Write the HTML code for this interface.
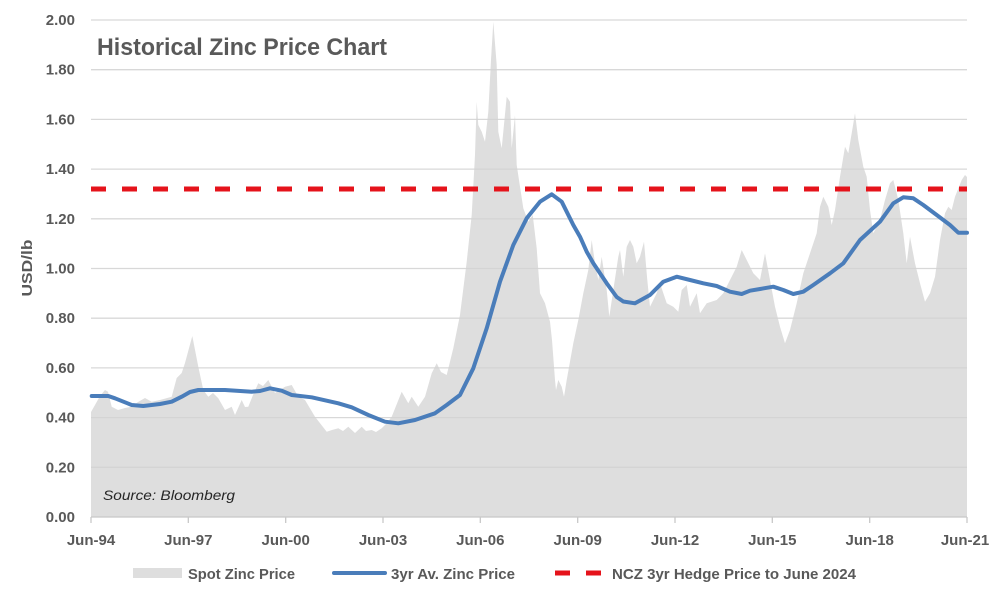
<!DOCTYPE html>
<html><head><meta charset="utf-8"><style>
html,body{margin:0;padding:0;background:#fff;}
svg{display:block;}
text{font-family:"Liberation Sans",Arial,sans-serif;fill:#595959;}
</style></head><body>
<svg width="1000" height="589" viewBox="0 0 1000 589" xmlns="http://www.w3.org/2000/svg">
<rect width="1000" height="589" fill="#fff"/>
<!-- spot area -->
<polygon fill="#dedede" points="91,412 95,405 100,396 105,390 108,391.7 111.7,406.7 118,410 125,408 131.7,406.7 138,402 145,398 151.7,401.7 160,400 171.7,396.7 176.7,378 181.7,373 185,363 192.3,336 198.3,366.7 203.3,390 208.3,396.7 213,393 218.3,398.3 225,410 231.7,406.7 235,415 241.7,400 245,407 248.3,406.7 253,395 258.3,383.3 263,386 268.3,380 275,393 280,390 285,386.7 291.7,385 298.3,396.7 305,400 315,416.7 326.7,431.7 332,430 338.3,428.3 343,431 348.3,426.7 355,433 361.7,426.7 366,431 371.7,430 376,432 381.7,428.3 386,424 391.7,416.7 401.7,391.7 408.3,403.3 411.7,396.7 418.3,406.7 425,396.7 431.7,373.3 436.7,363.3 441,372 446.7,375 453.3,348.3 460,315 466.7,261.7 471.7,215 475,155 476.7,101.7 478.3,125 481.7,131.7 485,141.7 488.3,111.7 491,60 493.3,21.7 496.7,65 498.3,131.7 501.7,148.3 506.7,96.7 510,101.7 511.7,148.3 515,115 516.7,165 523.3,208.3 528.3,221.7 532.7,215 536.7,248.3 540,293.3 545,303.3 550,321.7 552,340 555,380 556,390 558.3,380 561.7,386.7 564,396.7 566.7,380 573.3,343.3 578.3,320 583.3,293.3 588.3,270 591.7,240 595,263.3 598.3,280 601.7,256.7 606.7,290 609.3,316.7 613.3,290 618.3,256.7 620,250 623.3,276.7 626.7,246.7 630,240 633.3,246.7 636.7,263.3 640,256.7 644,241.7 647.3,280 650,306.7 656.7,293.3 660,283.3 666.7,303.3 673.3,306.7 678.3,311.7 681.7,290 686.7,285 690,306.7 696.7,293.3 700,313.3 706.7,303.3 716.7,300 723.3,293.3 730,280 736.7,266.7 741.7,250 746.7,260 753.3,273.3 760,280 765,253.3 770,280 775,306.7 780,326.7 785,343.3 790,330 796.7,303.3 803.3,273.3 810,253.3 816.7,233.3 820,206.7 823.3,196.7 828.3,206.7 831.7,225 835,210 840,176.7 845,146.7 848.3,153.3 851.7,133.3 855,113.3 858.3,140 863.3,166.7 866.7,176.7 870,210 873.3,233.3 876.7,226.7 880,220 885,200 890,183.3 893.3,180 898.3,200 903.3,233.3 906.7,263.3 910,236.7 915,263.3 920,283.3 925,301.7 930,293.3 935,276.7 940,240 945,213.3 948.3,206.7 951.7,210 955,196.7 961.7,180 965,175 967,177 967,517 91,517"/>
<!-- gridlines -->
<g stroke="#d4d4d4" stroke-width="1.3" opacity="0.9">
<line x1="91" y1="467.3" x2="967" y2="467.3"/>
<line x1="91" y1="417.6" x2="967" y2="417.6"/>
<line x1="91" y1="367.9" x2="967" y2="367.9"/>
<line x1="91" y1="318.2" x2="967" y2="318.2"/>
<line x1="91" y1="268.5" x2="967" y2="268.5"/>
<line x1="91" y1="218.8" x2="967" y2="218.8"/>
<line x1="91" y1="169.1" x2="967" y2="169.1"/>
<line x1="91" y1="119.4" x2="967" y2="119.4"/>
<line x1="91" y1="69.7" x2="967" y2="69.7"/>
<line x1="91" y1="20" x2="967" y2="20"/>
</g>
<!-- x axis -->
<g stroke="#c8c8c8" stroke-width="1.3">
<line x1="91" y1="517" x2="967" y2="517"/>
<line x1="91" y1="517" x2="91" y2="523"/>
<line x1="188.3" y1="517" x2="188.3" y2="523"/>
<line x1="285.7" y1="517" x2="285.7" y2="523"/>
<line x1="383" y1="517" x2="383" y2="523"/>
<line x1="480.3" y1="517" x2="480.3" y2="523"/>
<line x1="577.7" y1="517" x2="577.7" y2="523"/>
<line x1="675" y1="517" x2="675" y2="523"/>
<line x1="772.3" y1="517" x2="772.3" y2="523"/>
<line x1="869.7" y1="517" x2="869.7" y2="523"/>
<line x1="967" y1="517" x2="967" y2="523"/>
</g>
<!-- hedge line -->
<line x1="91" y1="189" x2="967" y2="189" stroke="#e5131b" stroke-width="5" stroke-dasharray="15 16"/>
<!-- 3yr avg -->
<polyline fill="none" stroke="#4a7dba" stroke-width="4" stroke-linejoin="round" stroke-linecap="round" points="91.7,396 108.3,396 115,398.3 131.7,405 143.3,406 160,404 171.7,401.7 181.7,396.7 190,392 198.3,390 225,390 251.7,391.7 260,391 270,388.3 281.7,390.7 291.7,395 311.7,397.3 338.3,403.3 351.7,407.3 368.3,415 385,421.7 398.3,423.3 415,420 435,413.3 446.7,405 460,395 473.3,368.3 486.7,328.3 500,281.7 513.3,245 526.7,218.3 540,201.7 551.7,194.3 561.7,201.7 573.3,225 580,236.7 586.7,251.7 593.3,263.3 606.7,283.3 616.7,297 623.3,301.5 635,303.3 650,295 663.3,281.7 676.7,276.7 690,280 703.3,283.3 716.7,286 730,291.7 741.7,294 750,290.7 760,289 773.3,286.7 783.3,290 793.3,294 803.3,291.7 813.3,285 830,273.3 843.3,263.3 860,240 880,221.7 893.3,203.3 903.3,197.3 913.3,198.3 923.3,205 936.7,215 950,225 958.3,232.7 967,232.7"/>
<!-- y labels -->
<g font-size="15" font-weight="bold" text-anchor="end">
<text x="75" y="522">0.00</text>
<text x="75" y="472.3">0.20</text>
<text x="75" y="422.6">0.40</text>
<text x="75" y="372.9">0.60</text>
<text x="75" y="323.2">0.80</text>
<text x="75" y="273.5">1.00</text>
<text x="75" y="223.8">1.20</text>
<text x="75" y="174.1">1.40</text>
<text x="75" y="124.4">1.60</text>
<text x="75" y="74.7">1.80</text>
<text x="75" y="25">2.00</text>
</g>
<!-- x labels -->
<g font-size="15" font-weight="bold" text-anchor="middle">
<text x="91" y="545">Jun-94</text>
<text x="188.3" y="545">Jun-97</text>
<text x="285.7" y="545">Jun-00</text>
<text x="383" y="545">Jun-03</text>
<text x="480.3" y="545">Jun-06</text>
<text x="577.7" y="545">Jun-09</text>
<text x="675" y="545">Jun-12</text>
<text x="772.3" y="545">Jun-15</text>
<text x="869.7" y="545">Jun-18</text>
<text x="965" y="545">Jun-21</text>
</g>
<!-- y axis title -->
<text transform="translate(32,268) rotate(-90)" font-size="15" font-weight="bold" text-anchor="middle" textLength="57" lengthAdjust="spacingAndGlyphs">USD/lb</text>
<!-- title -->
<text x="97" y="55" font-size="24" font-weight="bold" textLength="290" lengthAdjust="spacingAndGlyphs">Historical Zinc Price Chart</text>
<!-- source -->
<text x="103" y="500" font-size="14" font-style="italic" style="fill:#262626" textLength="132" lengthAdjust="spacingAndGlyphs">Source: Bloomberg</text>
<!-- legend -->
<rect x="133" y="568" width="49" height="10" fill="#dedede"/>
<text x="188" y="579" font-size="15" font-weight="bold" textLength="107" lengthAdjust="spacingAndGlyphs">Spot Zinc Price</text>
<line x1="334" y1="573" x2="385" y2="573" stroke="#4a7dba" stroke-width="4" stroke-linecap="round"/>
<text x="391" y="579" font-size="15" font-weight="bold" textLength="124" lengthAdjust="spacingAndGlyphs">3yr Av. Zinc Price</text>
<line x1="555" y1="573" x2="602" y2="573" stroke="#e5131b" stroke-width="5" stroke-dasharray="15 16"/>
<text x="612" y="579" font-size="15" font-weight="bold" textLength="244" lengthAdjust="spacingAndGlyphs">NCZ 3yr Hedge Price to June 2024</text>
</svg>
</body></html>
